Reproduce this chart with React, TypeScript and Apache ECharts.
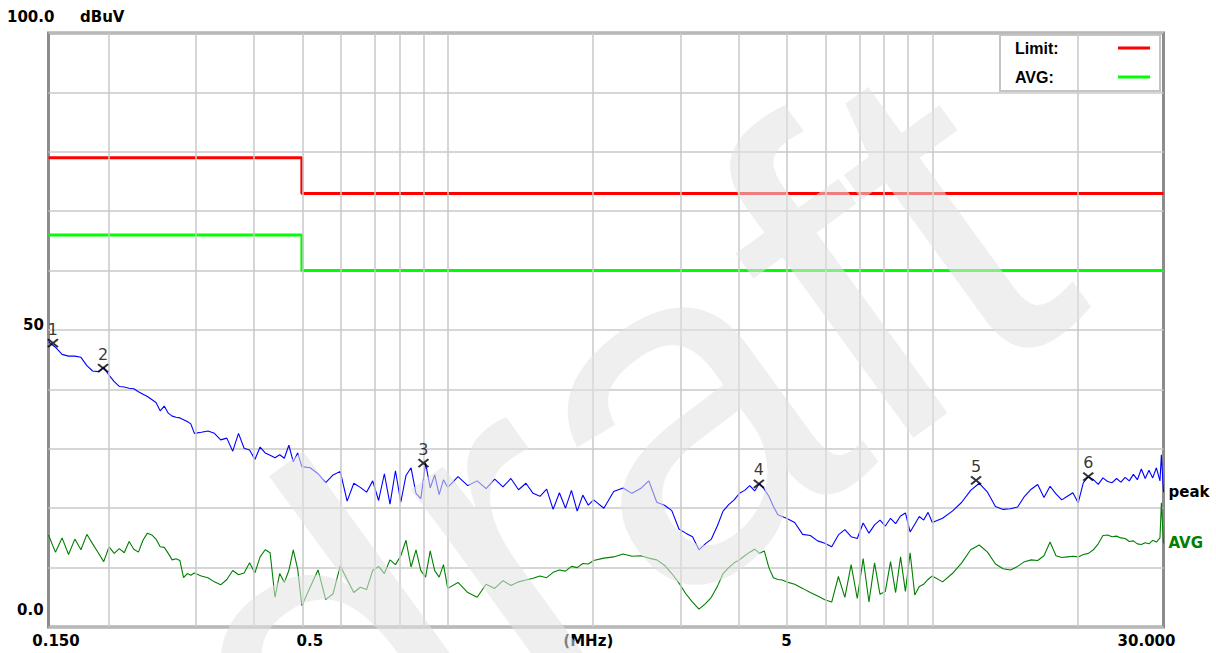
import React, { useEffect, useRef } from 'react';
import * as echarts from 'echarts';

// ---- Data ----
const FREQ_MHZ = [
  0.15, 0.155, 0.16, 0.165, 0.17, 0.175, 0.18, 0.185, 0.19, 0.195, 0.2, 0.205, 0.21, 0.215, 0.22, 0.225,
  0.23, 0.235, 0.24, 0.245, 0.25, 0.255, 0.26, 0.265, 0.27, 0.275, 0.28, 0.285, 0.29, 0.295, 0.3,
  0.31, 0.32, 0.33, 0.34, 0.35, 0.36, 0.37, 0.38, 0.39, 0.4, 0.41, 0.42, 0.43, 0.44, 0.45, 0.46, 0.47, 0.48, 0.49, 0.5,
  0.52, 0.54, 0.56, 0.58, 0.6, 0.62, 0.64, 0.66, 0.68, 0.7, 0.72, 0.74, 0.76, 0.78, 0.8, 0.82, 0.84, 0.86, 0.88, 0.9,
  0.92, 0.94, 0.96, 0.98, 1.0,
  1.05, 1.1, 1.15, 1.2, 1.25, 1.3, 1.35, 1.4, 1.45, 1.5, 1.55, 1.6, 1.65, 1.7, 1.75, 1.8, 1.85, 1.9, 1.95, 2.0,
  2.1, 2.2, 2.3, 2.4, 2.5, 2.6, 2.7, 2.8, 2.9, 3.0, 3.1, 3.2, 3.3, 3.4, 3.5, 3.6, 3.7, 3.8, 3.9, 4.0,
  4.1, 4.2, 4.3, 4.4, 4.5, 4.6, 4.7, 4.8, 4.9, 5.0,
  5.2, 5.4, 5.6, 5.8, 6.0, 6.2, 6.4, 6.6, 6.8, 7.0, 7.2, 7.4, 7.6, 7.8, 8.0, 8.2, 8.4, 8.6, 8.8, 9.0,
  9.2, 9.4, 9.6, 9.8, 10,
  10.5, 11, 11.5, 12, 12.5, 13, 13.5, 14, 14.5, 15, 15.5, 16, 16.5, 17, 17.5, 18, 18.5, 19, 19.5, 20,
  20.5, 21, 21.5, 22, 22.5, 23, 23.5, 24, 24.5, 25, 25.5, 26, 26.5, 27, 27.5, 28, 28.5, 29, 29.5, 29.7, 30,
];

const PEAK_DBUV = [
  48.0, 47.1, 45.9, 45.6, 45.6, 45.4, 44.0, 43.1, 43.0, 43.7, 42.4, 41.3, 40.5, 40.4, 40.2, 40.1,
  39.6, 39.2, 38.8, 38.3, 37.8, 36.4, 37.2, 36.0, 35.5, 35.3, 35.2, 34.9, 34.6, 34.2, 32.6,
  32.8, 33.0, 32.6, 31.5, 31.8, 29.6, 32.6, 30.1, 29.8, 28.2, 30.3, 29.3, 28.9, 28.5, 29.0, 28.4, 30.6, 27.8, 29.3, 27.0,
  26.8, 25.8, 24.3, 25.6, 26.2, 21.2, 24.2, 23.5, 22.7, 24.6, 21.3, 25.8, 20.7, 26.3, 21.0, 25.5, 26.8, 22.5, 21.6, 27.6,
  23.4, 25.6, 22.3, 24.8, 23.5,
  25.3, 23.8, 24.6, 23.3, 24.9, 23.6, 25.0, 23.1, 24.2, 22.5, 22.0, 23.2, 19.8, 22.6, 20.0, 23.0, 19.5, 22.2, 20.5, 21.4,
  20.0, 22.8, 23.4, 22.5, 23.3, 24.6, 21.0, 20.5, 19.6, 16.5, 15.8, 15.2, 13.0, 14.0, 14.8, 17.0, 19.5, 20.6, 21.4, 22.5,
  23.0, 23.8, 22.9, 24.2, 23.2, 22.0, 20.3, 18.9, 18.6, 18.3,
  17.6, 15.6, 15.4, 14.5, 14.1, 13.5, 15.5, 16.4, 15.2, 14.9, 17.5, 15.8, 17.2, 18.0, 17.0, 18.3, 17.4, 18.7, 19.2, 16.0,
  17.3, 18.6, 18.0, 19.3, 17.6,
  18.3, 19.5, 21.0, 23.0, 24.2, 22.7, 20.3, 19.8, 19.9, 20.2, 22.0, 23.2, 24.0, 21.8, 23.7, 22.4, 21.4, 22.0, 22.6, 20.9,
  24.3, 25.3, 24.8, 24.0, 25.1, 24.5, 24.3, 25.0, 24.4, 25.2, 24.6, 25.7, 24.8, 26.6, 25.0, 26.4, 25.1, 26.8, 24.6, 29.0, 22.7,
];

const AVG_DBUV = [
  15.5, 12.6, 15.0, 12.2, 14.8, 13.0, 15.6, 14.0, 12.5, 11.0, 13.5, 12.4, 13.2, 12.5, 14.4, 13.1,
  12.6, 14.6, 15.8, 15.5, 14.8, 13.5, 13.4, 12.4, 11.3, 11.5, 11.2, 8.3, 9.0, 8.7, 9.1,
  8.6, 8.3, 7.6, 7.1, 8.0, 9.5, 8.8, 9.1, 10.8, 9.1, 11.8, 13.0, 12.5, 5.0, 9.0, 7.5, 9.5, 13.0, 9.8, 3.6,
  6.7, 9.6, 4.6, 5.6, 10.3, 8.0, 5.8, 6.7, 6.3, 9.5, 10.2, 9.0, 11.3, 10.5, 12.0, 14.6, 10.1, 13.0, 9.5, 8.4,
  12.8, 9.5, 8.4, 10.5, 6.5,
  7.5, 5.8, 5.0, 7.2, 6.5, 7.8, 7.0, 7.6, 7.9, 8.2, 8.6, 8.3, 9.2, 9.6, 9.4, 10.2, 10.0, 10.7, 10.6, 11.2,
  11.6, 11.8, 12.3, 11.9, 12.0, 11.6, 11.3, 10.4, 9.0, 7.4, 5.6, 4.2, 3.0, 3.9, 5.0, 6.8, 9.0, 10.0, 10.8, 11.3,
  12.0, 12.6, 13.1, 12.4, 12.8, 10.0, 8.3, 8.0, 7.9, 7.6,
  7.2, 6.5, 5.8, 5.2, 4.6, 4.2, 8.5, 5.0, 10.5, 4.8, 11.5, 4.2, 10.8, 5.5, 6.0, 11.0, 5.8, 11.8, 6.0, 12.5,
  5.4, 6.8, 7.2, 8.0, 8.6,
  7.6, 9.0, 10.8, 13.0, 13.8, 12.6, 10.6, 9.8, 9.6, 10.2, 11.0, 11.3, 11.2, 12.0, 14.3, 12.0, 11.7, 11.8, 11.9, 11.8,
  12.2, 12.4, 13.0, 14.0, 15.4, 15.5, 15.2, 15.3, 15.0, 14.9, 14.4, 14.5, 14.0, 13.9, 14.2, 14.0, 14.6, 14.3, 15.0, 20.9, 14.1,
];

const LIMIT_FREQ = [0.15, 0.5, 0.5, 30];
const LIMIT_QP_DBUV = [79, 79, 73, 73];
const LIMIT_AVG_DBUV = [66, 66, 60, 60];

const MARKER_IDS = ['1', '2', '3', '4', '5', '6'];
const MARKER_FREQ = [0.1532, 0.1944, 0.891, 4.386, 12.31, 20.98];
const MARKER_DBUV = [47.8, 43.6, 27.6, 24.1, 24.7, 25.3];

const GRID_FREQ = [0.2, 0.3, 0.4, 0.5, 0.6, 0.7, 0.8, 0.9, 1, 2, 3, 4, 5, 6, 7, 8, 9, 10, 20];
const X_TICK_FREQ = [0.15, 0.5, 1.95, 5, 30];
const X_TICK_LABELS = ['0.150', '0.5', '(MHz)', '5', '30.000'];
const Y_TICK_VALUES = [0, 50, 100];
const Y_TICK_LABELS = ['0.0', '50', '100.0'];
const Y_UNIT = 'dBuV';
const WATERMARK = 'draft';

const lg = (f: number) => Math.log10(f);
const pairs = (xs: number[], ys: number[]) => {
  const n = Math.min(xs.length, ys.length);
  const out: number[][] = [];
  for (let i = 0; i < n; i++) out.push([lg(xs[i]), ys[i]]);
  return out;
};

const FONT = 'DejaVu Sans';

export default function App() {
  const ref = useRef<HTMLDivElement>(null);
  useEffect(() => {
    if (!ref.current) return;
    const chart = echarts.init(ref.current, null, { renderer: 'svg' });
    const baseLabel = { fontFamily: FONT, fontWeight: 'bold' as const, fontSize: 15, color: '#000', lineHeight: 15 };
    const legendText = { fontFamily: 'Liberation Sans', fontWeight: 'bold' as const, fontSize: 16, color: '#000', lineHeight: 18 };
    const option: any = {
      animation: false,
      textStyle: { fontFamily: FONT },
      grid: {
        left: 48.5, right: 52.5, top: 33, bottom: 26,
        show: true, borderColor: '#8c8c8c', borderWidth: 3, backgroundColor: '#fff',
      },
      legend: {
        data: ['Limit:', 'AVG:'],
        orient: 'vertical',
        left: 1000, top: 35,
        padding: [4, 10, 5, 15],
        itemGap: 11,
        itemWidth: 32, itemHeight: 3,
        icon: 'rect',
        align: 'right',
        selectedMode: false,
        backgroundColor: '#fff',
        borderColor: '#c4c4c4', borderWidth: 2,
        formatter: (name: string) => `{n|${name}}`,
        textStyle: { ...legendText, rich: { n: { ...legendText, width: 98, align: 'left' } } },
      },
      xAxis: {
        type: 'value',
        min: lg(0.15), max: lg(30),
        axisLine: { show: false },
        axisTick: { show: false },
        splitLine: { show: false },
        axisLabel: {
          customValues: X_TICK_FREQ.map(lg),
          margin: 6,
          formatter: (v: number) => {
            let best = 0;
            X_TICK_FREQ.forEach((f, i) => { if (Math.abs(lg(f) - v) < Math.abs(lg(X_TICK_FREQ[best]) - v)) best = i; });
            return `{t${best}|${X_TICK_LABELS[best]}}`;
          },
          rich: {
            t0: { ...baseLabel, padding: [0, 0, 0, 15] },
            t1: { ...baseLabel, padding: [0, 0, 0, 16] },
            t2: { ...baseLabel },
            t3: { ...baseLabel },
            t4: { ...baseLabel, padding: [0, 34, 0, 0] },
          },
        },
      },
      yAxis: {
        type: 'value',
        min: 0, max: 100, interval: 10,
        axisLine: { show: false },
        axisTick: { show: false },
        splitLine: { show: true, lineStyle: { color: '#c8c8c8', width: 1.5 } },
        axisLabel: {
          customValues: Y_TICK_VALUES,
          align: 'left',
          verticalAlign: 'bottom',
          margin: 41.5,
          formatter: (v: number) => {
            const i = Y_TICK_VALUES.indexOf(Math.round(v));
            return `{y${i}|${Y_TICK_LABELS[i]}}`;
          },
          rich: {
            y0: { ...baseLabel, lineHeight: 34, padding: [0, 0, 0, 10] },
            y1: { ...baseLabel, lineHeight: 11, padding: [0, 0, 0, 16] },
            y2: { ...baseLabel, lineHeight: 33 },
          },
        },
      },
      series: [
        {
          type: 'line', name: 'grid', data: [], z: 1, silent: true,
          markLine: {
            silent: true, symbol: ['none', 'none'], label: { show: false },
            emphasis: { disabled: true },
            lineStyle: { color: '#c8c8c8', width: 1.5, type: 'solid' },
            data: GRID_FREQ.map((f) => ({ xAxis: lg(f) })),
          },
        },
        {
          type: 'line', name: 'Limit:', data: pairs(LIMIT_FREQ, LIMIT_QP_DBUV), symbol: 'none', z: 3,
          lineStyle: { color: '#ff0000', width: 3 }, itemStyle: { color: '#ff0000' }, emphasis: { disabled: true }, silent: true,
        },
        {
          type: 'line', name: 'AVG:', data: pairs(LIMIT_FREQ, LIMIT_AVG_DBUV), symbol: 'none', z: 3,
          lineStyle: { color: '#00ff00', width: 3 }, itemStyle: { color: '#00ff00' }, emphasis: { disabled: true }, silent: true,
        },
        {
          type: 'line', name: 'peak', data: pairs(FREQ_MHZ, PEAK_DBUV), symbol: 'none', z: 3,
          lineStyle: { color: '#0000ff', width: 1.1 }, itemStyle: { color: '#0000ff' }, emphasis: { disabled: true }, silent: true,
          endLabel: { show: true, formatter: 'peak', distance: 5, ...baseLabel },
        },
        {
          type: 'line', name: 'AVG', data: pairs(FREQ_MHZ, AVG_DBUV), symbol: 'none', z: 3,
          lineStyle: { color: '#008000', width: 1.1 }, itemStyle: { color: '#008000' }, emphasis: { disabled: true }, silent: true,
          endLabel: { show: true, formatter: 'AVG', distance: 5, ...baseLabel, color: '#008000' },
        },
        {
          type: 'scatter', name: 'markers', data: pairs(MARKER_FREQ, MARKER_DBUV), z: 150, silent: true,
          symbol: 'path://M0,0L10,8M10,0L0,8', symbolSize: [10, 8],
          itemStyle: { color: 'rgba(0,0,0,0)', borderColor: '#000', borderWidth: 2 },
          emphasis: { disabled: true },
          label: {
            show: true, position: 'top', distance: 1, color: '#000', fontSize: 16, fontFamily: FONT,
            formatter: (p: any) => MARKER_IDS[p.dataIndex],
          },
        },
      ],
      graphic: [
        {
          type: 'text', x: 80, y: 16.5, z: 10, silent: true,
          style: {
            text: Y_UNIT, fontFamily: FONT, fontWeight: 'bold', fontSize: 15, fill: '#000',
            textAlign: 'left', align: 'left', textVerticalAlign: 'middle', verticalAlign: 'middle',
          },
        },
        {
          type: 'text', x: 220, y: 736, rotation: 0.628, z: 100, silent: true,
          style: {
            text: WATERMARK, fontSize: 480, fontFamily: 'Liberation Sans',
            fill: 'rgba(226,226,226,0.56)',
            textAlign: 'left', align: 'left', textVerticalAlign: 'middle', verticalAlign: 'middle',
          },
        },
      ],
    };
    chart.setOption(option);
    return () => chart.dispose();
  }, []);
  return <div ref={ref} style={{ position: 'absolute', left: 0, top: 0, width: 1216, height: 653, background: '#fff' }} />;
}
